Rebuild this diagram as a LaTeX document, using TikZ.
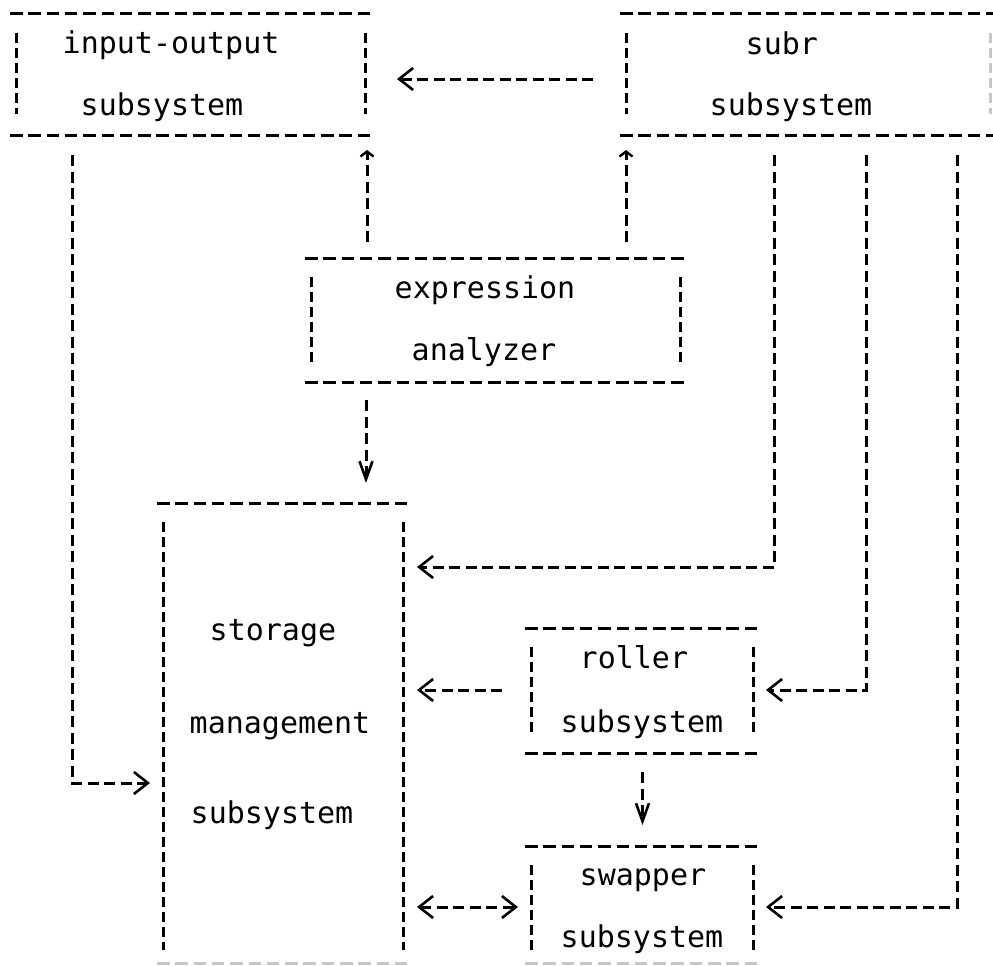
\documentclass[tikz,border=0pt]{standalone}
\usepackage{fontspec}
\newfontfamily\tw{DejaVu Sans Mono}
\usetikzlibrary{arrows.meta,calc}
\tikzset{
  hdash/.style={line width=3pt, dash pattern=on 12.5pt off 5.8pt},
  vdash/.style={line width=2.6pt, dash pattern=on 10pt off 5pt},
  faint/.style={draw=black!22},
  conn/.style={line width=3pt, dash pattern=on 11pt off 5.5pt},
  chev/.tip={Straight Barb[length=14pt,width=22pt,line width=2.6pt]},
  vee/.tip={Straight Barb[length=18pt,width=13pt,line width=2.6pt]},
  caret/.tip={Straight Barb[length=5pt,width=13pt,line width=2.4pt]},
  tbox/.style={rectangle, inner sep=0pt, outer sep=0pt},
  lbl/.style={anchor=base west, inner sep=0pt, font=\tw\fontsize{30}{36}\selectfont},
}
\newcommand\typebox[3]{%
  \draw[hdash] (#1.north west) -- (#1.north east);
  \draw[hdash,#3] (#1.south west) -- (#1.south east);
  \draw[vdash] ($(#1.north west)+(6.5,19)$) -- ($(#1.south west)+(6.5,-#2)$);
  \draw[vdash] ($(#1.north east)+(-6.5,19)$) -- ($(#1.south east)+(-6.5,-#2)$);
}
\begin{document}
\begin{tikzpicture}[x=1pt,y=-1pt]
\fill[white] (0,0) rectangle (993,966);
\useasboundingbox (0,0) rectangle (993,966);

% boxes
\node[tbox, minimum width=362pt, minimum height=121pt] (io) at (191,74.5) {};
\node[tbox, minimum width=377pt, minimum height=121pt] (subr) at (808.5,74.5) {};
\node[tbox, minimum width=382pt, minimum height=124pt] (expr) at (496,320) {};
\node[tbox, minimum width=253pt, minimum height=460pt] (storage) at (283.5,733) {};
\node[tbox, minimum width=235pt, minimum height=125pt] (roller) at (642.5,690.5) {};
\node[tbox, minimum width=235pt, minimum height=117pt] (swapper) at (642.5,904.5) {};

\typebox{io}{21}{}
\typebox{expr}{19}{}
\typebox{storage}{13}{faint}
\typebox{roller}{18}{}
\typebox{swapper}{13}{faint}
% subr box (right side runs off the page)
\draw[hdash] (subr.north west) -- (subr.north east);
\draw[hdash] (subr.south west) -- (subr.south east);
\draw[vdash] ($(subr.north west)+(6.5,19)$) -- ($(subr.south west)+(6.5,-21)$);
\draw[vdash,faint] ($(subr.north east)+(-6.5,19)$) -- ($(subr.south east)+(-6.5,-21)$);

% texts
\node[lbl] (io1) at (62.5,54) {input-output};
\node[lbl] (io2) at (80.5,115) {subsystem};
\node[lbl] (subr1) at (745.5,55) {subr};
\node[lbl] (subr2) at (709.5,115) {subsystem};
\node[lbl] (ex1) at (394.5,298) {expression};
\node[lbl] (ex2) at (411.5,360) {analyzer};
\node[lbl] (st1) at (209.5,640) {storage};
\node[lbl] (st2) at (189.5,733) {management};
\node[lbl] (st3) at (190.5,823) {subsystem};
\node[lbl] (ro1) at (579.5,668) {roller};
\node[lbl] (ro2) at (560.5,732) {subsystem};
\node[lbl] (sw1) at (579.5,885) {swapper};
\node[lbl] (sw2) at (560.5,947) {subsystem};

% connectors
\draw[conn,-chev, shorten <=27pt, shorten >=25pt] (subr.west |- 0,79) -- (io.east |- 0,79);
\draw[conn,-caret] ($(expr.north west)+(62,-16)$) -- ($(io.south east)+(-5,15)$);
\draw[conn,-caret] ($(expr.north east)+(-61,-16)$) -- ($(subr.south west)+(6,15)$);
\draw[conn,-vee] ($(expr.south west)+(61,18)$) -- ($(storage.north west)+(209,-20)$);
\draw[conn,-chev, shorten >=7pt] ($(io.south west)+(62,20)$) |- (storage.west |- 0,783);
\draw[conn,-chev, shorten >=7pt] ($(subr.south west)+(154,20)$) |- (storage.east |- 0,567);
\draw[conn,-chev, shorten <=23pt, shorten >=7pt] (roller.west |- 0,690) -- (storage.east |- 0,690);
\draw[conn,-chev, shorten >=6pt] ($(subr.south west)+(246,20)$) |- (roller.east |- 0,690);
\draw[conn,-vee, shorten <=19pt, shorten >=21pt] (roller.south) -- (swapper.north);
\draw[conn,chev-chev, shorten <=7pt, shorten >=7pt] (storage.east |- 0,907) -- (swapper.west |- 0,907);
\draw[conn,-chev, shorten >=6pt] ($(subr.south west)+(337,20)$) |- (swapper.east |- 0,907);
\end{tikzpicture}
\end{document}
